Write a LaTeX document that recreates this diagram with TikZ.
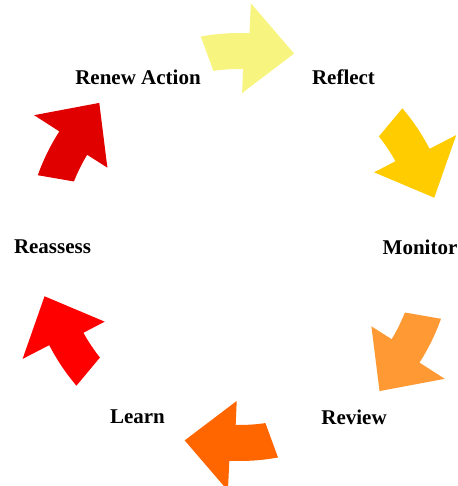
\documentclass[tikz,border=0pt]{standalone}
\usepackage{fontspec}
\setmainfont{Liberation Serif}
\usepackage{xcolor}

\definecolor{cycyellow}{RGB}{247,245,128}
\definecolor{cycgold}{RGB}{255,204,0}
\definecolor{cyclightorange}{RGB}{255,153,51}
\definecolor{cycorange}{RGB}{255,102,0}
\definecolor{cycred}{RGB}{255,0,0}
\definecolor{cycdarkred}{RGB}{224,0,0}

% one curved arrow of the cycle, centred on angle #1
\newcommand{\cyclearrow}[2]{%
  \fill[#2] (#1+11.6:178) arc[start angle=#1+11.6, end angle=#1+2, radius=178]
    -- (#1+2.2:154) -- (#1-12.6:201) -- (#1+0.5:244) -- (#1+0.5:214)
    arc[start angle=#1+0.5, end angle=#1+13.6, radius=214] -- cycle;}

\begin{document}
\begin{tikzpicture}[x=1pt,y=1pt,label/.style={font=\fontsize{21}{25}\selectfont\bfseries}]
            \useasboundingbox (0,0) rectangle (457,486);

            % draw the arrows round the centre
            \begin{scope}[shift={(239.4,239)}]
                \cyclearrow{86.8}{cycyellow}
                \cyclearrow{26.8}{cycgold}
                \cyclearrow{-33.2}{cyclightorange}
                \cyclearrow{-93.2}{cycorange}
                \cyclearrow{-153.2}{cycred}
                \cyclearrow{146.8}{cycdarkred}
            \end{scope}

            % text of the steps
            \node[label] (reflect) at (343.5,409) {Reflect};
            \node[label] (monitor) at (420,239) {Monitor};
            \node[label] (review) at (354,69) {Review};
            \node[label] (learn) at (137.5,69) {Learn};
            \node[label] (reassess) at (52.5,239) {Reassess};
            \node[label] (renew) at (138,409) {Renew Action};
        \end{tikzpicture}
\end{document}
